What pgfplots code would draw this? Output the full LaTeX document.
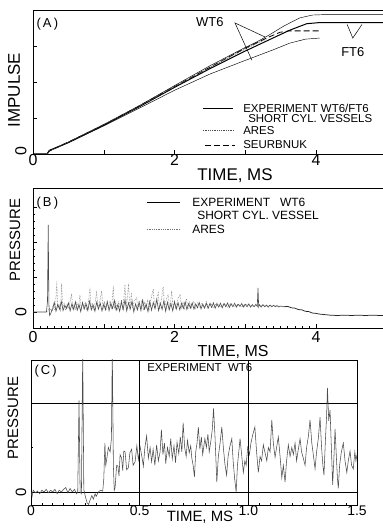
\documentclass[border=0pt]{standalone}
\usepackage{pgfplots}
\pgfplotsset{compat=1.18}
\usepackage{fontspec}
\setmainfont{Liberation Sans}
\pgfplotsset{
  myax/.style={scale only axis, clip mode=individual,
    axis x line*=bottom, axis y line*=left,
    axis line style={black, line width=0.7pt},
    tick style={black, line width=0.5pt},
    major tick length=4bp, minor tick length=2bp,
    /pgf/number format/assume math mode=true,
    yticklabels={},
  },
}
\newcommand{\fs}[1]{\fontsize{#1}{#1}\selectfont}
\begin{document}
\begin{tikzpicture}
\useasboundingbox (0,0) rectangle (383bp,532bp);
% ---------------- Panel A ----------------
\begin{axis}[myax, at={(33bp,378bp)}, anchor=south west,
  width=350bp, height=144bp,
  xmin=0, xmax=4.947, ymin=0, ymax=4,
  xtick={0,1,2,3,4}, xticklabels={0,,2,,4},
  ytick={0,1,2,3,4},
  xticklabel style={font=\fs{16}, yshift=3bp},
]
\addplot[black, line width=0.45pt] coordinates {(0,0)(0.2,0)(0.23,0.1)(0.5,0.33)(1,0.82)(1.5,1.34)(2,1.9)(2.5,2.45)(3,2.96)(3.17,3.12)(3.35,3.32)(3.55,3.56)(3.77,3.78)(3.95,3.86)(4.1,3.87)(4.95,3.87)};
\addplot[black, line width=1pt] coordinates {(0,0)(0.2,0)(0.23,0.1)(0.5,0.32)(1,0.8)(1.5,1.31)(2,1.85)(2.5,2.37)(3,2.86)(3.39,3.22)(3.63,3.44)(3.87,3.62)(4.05,3.65)(4.95,3.65)};
\addplot[black, line width=0.45pt] coordinates {(0.2,0)(0.23,0.08)(0.5,0.31)(1,0.78)(1.5,1.27)(2,1.77)(2.5,2.22)(3,2.6)(3.39,2.89)(3.63,3.08)(3.85,3.19)(4.05,3.22)};
\addplot[black, line width=0.8pt, dash pattern=on 6pt off 3pt] coordinates {(0.2,0)(0.23,0.08)(1,0.8)(2,1.87)(2.5,2.41)(3,2.94)(3.3,3.22)(3.49,3.38)(3.62,3.42)(4.06,3.42)};
\addplot[black!70, line width=0.8pt, densely dotted] coordinates {(0.2,0)(0.23,0.09)(0.5,0.33)(1,0.82)(1.5,1.33)(2,1.87)(2.5,2.4)(3,2.92)(3.3,3.2)};
% annotations
\draw[line width=0.5pt] (axis cs:3.28,3.25) -- (axis cs:2.855,3.64) -- (axis cs:3.095,2.6);
\node[font=\fs{13}] at (axis cs:2.5,3.67) {WT6};
\draw[line width=0.5pt] (axis cs:4.44,3.6) -- (axis cs:4.52,3.22) -- (axis cs:4.65,3.6);
\node[font=\fs{13}] at (axis cs:4.52,2.83) {FT6};
\node[font=\fs{13}, anchor=west] at (axis cs:0.0,3.62) {(\,A\,)};
% legend
\draw[black, line width=0.5pt] (axis cs:2.40,1.28) -- (axis cs:2.83,1.28);
\node[font=\fs{11.5}, anchor=west, inner sep=0pt] at (axis cs:2.97,1.28) {EXPERIMENT WT6/FT6};
\node[font=\fs{11.5}, anchor=west, inner sep=0pt] at (axis cs:3.04,0.99) {SHORT CYL. VESSELS};
\draw[black!70, line width=0.8pt, densely dotted] (axis cs:2.40,0.65) -- (axis cs:2.85,0.65);
\node[font=\fs{11.5}, anchor=west, inner sep=0pt] at (axis cs:2.97,0.65) {ARES};
\draw[black, line width=0.8pt, dash pattern=on 6pt off 3pt] (axis cs:2.43,0.25) -- (axis cs:2.85,0.25);
\node[font=\fs{11.5}, anchor=west, inner sep=0pt] at (axis cs:2.97,0.25) {SEURBNUK};
% frame top, axis labels
\draw[black, line width=0.7pt] (rel axis cs:0,1) -- (rel axis cs:1,1);
\node[font=\fs{17}] at (axis cs:2.855,0) [yshift=-22bp] {TIME, MS};
\node[font=\fs{16}, xshift=-12bp, yshift=3bp, rotate=90] at (axis cs:0,0) {0};
\end{axis}
\node[font=\fs{17}, rotate=90] at (14bp,442bp) {IMPULSE};
% ---------------- Panel B ----------------
\begin{axis}[myax, at={(33bp,204bp)}, anchor=south west,
  width=350bp, height=140bp,
  xmin=0, xmax=4.947, ymin=-0.457, ymax=3.54,
  xtick={0,1,2,3,4}, xticklabels={0,,2,,4}, minor x tick num=9,
  ytick={0,1,2,3}, minor y tick num=4,
  xticklabel style={font=\fs{16}},
]
\addplot[black!55, line width=0.55pt, densely dotted] coordinates {(0.19,0)(0.21,0.02)(0.23,0.1)(0.26,0.05)(0.28,0.15)(0.30,0.08)(0.32,0.2)(0.335,0.87)(0.35,0.1)(0.37,0.22)(0.39,0.06)(0.405,0.82)(0.42,0.12)(0.44,0.24)(0.46,0.05)(0.48,0.2)(0.50,0.1)(0.52,0.26)(0.547,0.52)(0.56,0.08)(0.58,0.22)(0.60,0.06)(0.62,0.28)(0.64,0.1)(0.664,0.48)(0.68,0.07)(0.70,0.24)(0.72,0.1)(0.74,0.3)(0.76,0.05)(0.78,0.22)(0.806,0.69)(0.82,0.09)(0.84,0.25)(0.86,0.06)(0.88,0.3)(0.90,0.55)(0.92,0.1)(0.94,0.27)(0.97,0.6)(0.99,0.08)(1.01,0.3)(1.03,0.05)(1.05,0.26)(1.07,0.12)(1.09,0.33)(1.11,0.07)(1.135,0.75)(1.15,0.1)(1.17,0.28)(1.19,0.04)(1.21,0.31)(1.23,0.09)(1.25,0.35)(1.27,0.06)(1.30,0.78)(1.32,0.12)(1.35,0.8)(1.37,0.05)(1.39,0.55)(1.41,0.1)(1.43,0.3)(1.466,0.42)(1.48,0.06)(1.50,0.29)(1.52,0.1)(1.54,0.33)(1.56,0.04)(1.58,0.3)(1.60,0.09)(1.62,0.36)(1.64,0.07)(1.66,0.3)(1.70,0.66)(1.72,0.1)(1.74,0.32)(1.77,0.55)(1.79,0.08)(1.81,0.3)(1.84,0.72)(1.86,0.1)(1.88,0.32)(1.91,0.5)(1.93,0.06)(1.96,0.6)(1.98,0.1)(2.0,0.3)(2.02,0.08)(2.04,0.34)(2.08,0.5)(2.1,0.09)(2.12,0.3)(2.14,0.1)(2.17,0.38)(2.19,0.08)(2.21,0.28)(2.24,0.12)(2.27,0.3)(2.3,0.1)(2.33,0.28)(2.36,0.12)(2.39,0.26)(2.42,0.1)(2.45,0.29)(2.48,0.13)(2.51,0.25)(2.55,0.12)(2.6,0.27)(2.65,0.13)(2.7,0.24)(2.75,0.14)(2.8,0.25)(2.85,0.15)(2.9,0.23)(2.95,0.15)(3.0,0.22)(3.1,0.16)(3.2,0.2)(3.3,0.16)(3.4,0.19)(3.5,0.16)};
\addplot[black!70, line width=0.6pt] coordinates {(0,0)(0.19,0)(0.205,0.3)(0.215,2.49)(0.225,0.2)(0.235,-0.1)(0.25,-0.05)(0.265,0.05)
(0.275,0.05)(0.300,0.28)(0.325,0.02)(0.350,0.22)(0.375,0.08)(0.400,0.30)(0.425,0.04)(0.450,0.19)(0.475,0.10)(0.500,0.26)(0.525,0.03)(0.550,0.24)(0.575,0.07)(0.600,0.29)(0.625,0.05)(0.650,0.21)(0.675,0.01)(0.700,0.27)(0.725,0.09)(0.750,0.23)(0.775,0.04)(0.800,0.31)(0.825,0.06)(0.850,0.20)(0.875,0.02)(0.900,0.28)(0.925,0.08)(0.950,0.25)(0.975,0.03)(1.000,0.22)
(1.025,0.06)(1.050,0.30)(1.075,0.04)(1.100,0.24)(1.125,0.10)(1.150,0.33)(1.175,0.05)(1.200,0.21)(1.225,0.02)(1.250,0.29)(1.275,0.07)(1.300,0.35)(1.325,0.03)(1.350,0.26)(1.375,0.09)(1.400,0.31)(1.425,0.00)(1.450,0.23)(1.475,0.06)(1.500,0.28)(1.525,0.04)(1.550,0.34)(1.575,0.08)(1.600,0.22)(1.625,0.01)(1.650,0.30)(1.675,0.05)(1.700,0.27)(1.725,0.09)(1.750,0.36)(1.775,0.04)(1.800,0.25)(1.825,0.07)(1.850,0.32)(1.875,0.02)(1.900,0.28)(1.925,0.06)(1.950,0.24)(1.975,0.03)(2.000,0.29)
(2.025,0.08)(2.050,0.27)(2.075,0.06)(2.100,0.25)(2.125,0.10)(2.150,0.29)(2.175,0.07)(2.200,0.24)(2.225,0.11)(2.250,0.26)(2.275,0.08)(2.300,0.23)(2.325,0.12)(2.350,0.27)(2.375,0.09)(2.400,0.22)(2.425,0.11)(2.450,0.25)(2.475,0.10)(2.500,0.24)(2.525,0.13)(2.550,0.26)(2.575,0.11)(2.600,0.23)(2.625,0.14)(2.650,0.25)(2.675,0.12)(2.700,0.24)(2.725,0.15)(2.750,0.26)(2.775,0.13)(2.800,0.23)(2.825,0.15)(2.850,0.25)(2.875,0.14)(2.900,0.22)(2.925,0.16)(2.950,0.24)(2.975,0.14)(3.000,0.22)
(3.025,0.15)(3.050,0.23)(3.075,0.14)(3.100,0.21)(3.125,0.15)(3.150,0.22)(3.170,0.16)(3.180,0.69)(3.190,0.15)(3.200,0.21)(3.225,0.14)(3.250,0.21)(3.275,0.15)(3.300,0.20)(3.325,0.14)(3.350,0.20)(3.375,0.15)(3.400,0.19)(3.425,0.15)(3.450,0.18)(3.475,0.14)(3.500,0.17)(3.55,0.15)};
\addplot[black!85, line width=0.75pt] coordinates {(3.55,0.15)(3.6,0.16)(3.65,0.12)(3.7,0.11)(3.75,0.07)(3.8,0.06)(3.85,0.02)(3.9,0.01)(3.95,-0.03)(4.0,-0.04)(4.05,-0.06)(4.1,-0.07)(4.2,-0.09)(4.3,-0.1)(4.4,-0.09)(4.5,-0.1)(4.6,-0.09)(4.7,-0.1)(4.8,-0.09)(4.9,-0.1)(4.95,-0.1)};
\draw[black, line width=0.7pt] (rel axis cs:0,1) -- (rel axis cs:1,1);
\draw[black, line width=0.5pt] (axis cs:1.61,3.12) -- (axis cs:2.08,3.12);
\node[font=\fs{12}, anchor=west, inner sep=0pt] at (axis cs:2.25,3.12) {EXPERIMENT\ \ \ WT6};
\node[font=\fs{12}, anchor=west, inner sep=0pt] at (axis cs:2.32,2.76) {SHORT CYL. VESSEL};
\draw[black!55, line width=0.8pt, densely dotted] (axis cs:1.61,2.36) -- (axis cs:2.08,2.36);
\node[font=\fs{12}, anchor=west, inner sep=0pt] at (axis cs:2.25,2.36) {ARES};
\node[font=\fs{13}, anchor=west] at (axis cs:0.0,3.11) {(\,B\,)};
\node[font=\fs{16}, xshift=-12bp, rotate=90] at (axis cs:0,0) {0};
\end{axis}
\node[font=\fs{16}] at (233bp,180bp) {TIME, MS};
\node[font=\fs{15}, rotate=90] at (15bp,292bp) {PRESSURE};
% ---------------- Panel C ----------------
\begin{axis}[scale only axis, at={(31bp,27bp)}, anchor=south west,
  width=326bp, height=145bp,
  xmin=0, xmax=1.5, ymin=-0.146, ymax=1.483,
  axis line style={black, line width=0.7pt},
  tick style={black, line width=0.5pt},
  major tick length=4bp, minor tick length=2bp,
  /pgf/number format/assume math mode=true,
  xtick={0,0.5,1,1.5}, xticklabels={0,0.5,1.0,1.5},
  minor x tick num=9,
  ytick={0,1}, yticklabels={}, minor ytick={0.5},
  xtick pos=left, ytick pos=left,
  grid=major, major grid style={black, line width=0.6pt},
  xticklabel style={font=\fs{14}, yshift=3bp},
  clip mode=individual,
]
\addplot[black!70, line width=0.55pt] coordinates {(0,0.0)(0.005,-0.05)(0.01,0.02)(0.02,-0.01)(0.03,0.01)(0.04,-0.02)(0.05,0.02)(0.06,0.0)(0.07,0.03)(0.08,-0.01)(0.09,0.02)(0.10,0.0)(0.11,0.03)(0.12,-0.02)(0.13,0.02)(0.14,0.0)(0.15,0.03)(0.16,0.05)(0.17,-0.01)(0.18,0.04)(0.19,0.0)(0.20,0.03)(0.21,-0.02)(0.215,0.0)(0.221,1.03)(0.226,0.0)(0.232,-0.02)(0.238,1.6)(0.243,0.03)(0.25,-0.05)(0.258,-0.12)(0.265,-0.14)(0.272,-0.09)(0.28,-0.04)(0.287,-0.08)(0.295,-0.02)(0.30,-0.05)(0.31,0.0)(0.32,0.02)(0.33,0.01)(0.335,0.15)(0.34,0.55)(0.344,0.3)(0.348,0.36)(0.356,0.5)(0.364,0.45)(0.37,0.6)(0.374,1.6)(0.379,0.3)(0.383,0.02)(0.387,0.05)(0.394,0.3)(0.40,0.29)(0.405,0.18)(0.41,0.42)(0.417,0.38)(0.422,0.24)(0.427,0.46)(0.433,0.45)(0.44,0.25)(0.448,0.27)(0.455,0.44)(0.463,0.48)(0.47,0.3)(0.479,0.34)(0.487,0.52)(0.494,0.36)(0.502,0.51)(0.51,0.4)(0.517,0.29)(0.524,0.5)(0.532,0.63)(0.54,0.38)(0.548,0.5)(0.555,0.34)(0.562,0.48)(0.57,0.3)(0.578,0.53)(0.586,0.35)(0.594,0.45)(0.60,0.7)(0.607,0.42)(0.614,0.55)(0.62,0.32)(0.628,0.5)(0.636,0.4)(0.643,0.6)(0.65,0.37)(0.658,0.52)(0.665,0.33)(0.672,0.56)(0.68,0.43)(0.687,0.62)(0.694,0.45)(0.70,0.78)(0.707,0.5)(0.714,0.4)(0.72,0.58)(0.728,0.44)(0.735,0.52)(0.74,0.38)(0.746,0.3)(0.752,0.17)(0.758,0.45)(0.764,0.55)(0.77,0.73)(0.777,0.48)(0.784,0.62)(0.79,0.42)(0.80,0.6)(0.807,0.5)(0.814,0.65)(0.82,0.45)(0.828,0.58)(0.834,0.7)(0.84,0.94)(0.847,0.6)(0.855,0.11)(0.862,0.4)(0.87,0.55)(0.878,0.73)(0.885,0.5)(0.892,0.32)(0.90,0.19)(0.907,0.4)(0.914,0.5)(0.924,0.6)(0.93,0.35)(0.937,0.15)(0.944,0.0)(0.95,0.3)(0.956,0.45)(0.962,0.6)(0.97,0.4)(0.977,0.22)(0.984,0.35)(0.99,0.3)(0.997,0.5)(1.005,0.42)(1.012,0.55)(1.02,0.64)(1.03,0.73)(1.038,0.45)(1.046,0.22)(1.054,0.4)(1.061,0.35)(1.069,0.53)(1.077,0.44)(1.085,0.35)(1.092,0.5)(1.1,0.45)(1.108,0.81)(1.115,0.55)(1.123,0.39)(1.13,0.5)(1.138,0.62)(1.146,0.4)(1.154,0.16)(1.161,0.3)(1.169,0.11)(1.176,0.35)(1.184,0.53)(1.192,0.4)(1.2,0.5)(1.207,0.42)(1.215,0.55)(1.222,0.35)(1.23,0.48)(1.238,0.6)(1.245,0.45)(1.253,0.38)(1.261,0.3)(1.268,0.5)(1.276,0.62)(1.284,0.81)(1.292,0.55)(1.3,0.4)(1.307,0.26)(1.314,0.45)(1.322,0.6)(1.33,0.84)(1.337,0.5)(1.343,0.3)(1.348,0.19)(1.355,0.6)(1.36,0.85)(1.364,1.17)(1.37,0.8)(1.376,0.92)(1.382,0.5)(1.388,0.08)(1.394,0.4)(1.399,0.71)(1.405,0.4)(1.41,0.15)(1.414,0.04)(1.42,0.3)(1.428,0.45)(1.437,0.55)(1.445,0.35)(1.453,0.22)(1.46,0.35)(1.468,0.46)(1.475,0.3)(1.483,0.26)(1.49,0.45)(1.495,0.35)(1.5,0.42)};
\node[font=\fs{11.5}, anchor=west, inner sep=0pt] at (axis cs:0.534,1.40) {EXPERIMENT\ \ WT6};
\node[font=\fs{13}, anchor=west] at (axis cs:0.0,1.36) {(\,C\,)};
\node[font=\fs{15}, xshift=-10bp, rotate=90] at (axis cs:0,0) {0};
\end{axis}
\node[font=\fs{15}] at (200bp,15bp) {TIME, MS};
\node[font=\fs{15}, rotate=90] at (13bp,114bp) {PRESSURE};
\end{tikzpicture}
\end{document}
